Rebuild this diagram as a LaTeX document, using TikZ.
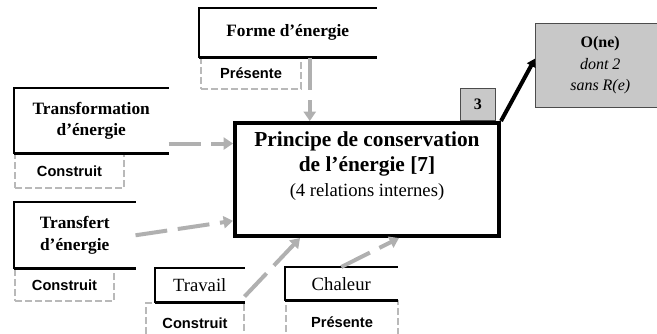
\documentclass[tikz,border=0pt]{standalone}
\usepackage{fontspec}
\setmainfont{Liberation Serif}
\setsansfont{Liberation Sans}
\usepackage{xcolor}
\usetikzlibrary{arrows.meta}

\definecolor{flowgray}{RGB}{176,176,176}
\definecolor{taggray}{RGB}{185,185,185}
\definecolor{boxgray}{RGB}{200,200,200}

\begin{document}
\begin{tikzpicture}[x=0.75pt, y=-0.75pt,
    concept/.style = {anchor=north west, inner sep=0pt, align=center, font=\fontsize{13}{16}\selectfont\bfseries},
    tag/.style = {anchor=north west, inner sep=0pt, draw=taggray, line width=1.5pt, dash pattern=on 5pt off 2.5pt, font=\sffamily\bfseries\fontsize{11}{13}\selectfont},
    flow/.style = {draw=flowgray, line width=3pt, dash pattern=on 24pt off 8pt, -{Triangle[length=7pt,width=9pt]}},
    greybox/.style = {anchor=north west, draw=black!70, fill=boxgray, inner sep=0pt, align=center}]
        \useasboundingbox (0,0) rectangle (657,333);
        \clip (0,0) rectangle (657,333);

        % tags under the concepts
        \node[tag, minimum width=75pt, minimum height=23.25pt] (presA) at (200,57) {Présente};
        \node[tag, minimum width=81.75pt, minimum height=25.5pt] (consA) at (14,153) {Construit};
        \node[tag, minimum width=74.25pt, minimum height=24pt] (consB) at (14,268) {Construit};
        \node[tag, minimum width=73.5pt, minimum height=30pt] (consC) at (145,302) {Construit};
        \node[tag, minimum width=84pt, minimum height=31.5pt] (presB) at (285,300) {Présente};

        % concepts
        \node[concept, minimum width=132.75pt, minimum height=36.75pt] (forme) at (199,8) {Forme d'énergie};
        \node[concept, minimum width=115.5pt, minimum height=48.75pt] (trfo) at (14,88) {Transformation\\d'énergie};
        \node[concept, minimum width=90.75pt, minimum height=49.5pt] (trfe) at (14,202) {Transfert\\d'énergie};
        \node[concept, font=\fontsize{14}{16}\selectfont, minimum width=66.75pt, minimum height=25.5pt] (travail) at (155,268) {Travail};
        \node[concept, font=\fontsize{14}{16}\selectfont, minimum width=84pt, minimum height=24.75pt] (chaleur) at (285,267) {Chaleur};

        \draw[line width=1pt] (forme.north east) -- (forme.north west) -- (forme.south west);
        \draw[line width=1.8pt] (forme.south west) -- (forme.south east);
        \draw[line width=1pt] (trfo.north east) -- (trfo.north west) -- (trfo.south west);
        \draw[line width=1.8pt] (trfo.south west) -- (trfo.south east);
        \draw[line width=1pt] (trfe.north east) -- (trfe.north west) -- (trfe.south west);
        \draw[line width=1.8pt] (trfe.south west) -- (trfe.south east);
        \draw[line width=1pt] (travail.north east) -- (travail.north west) -- (travail.south west);
        \draw[line width=1.8pt] (travail.south west) -- (travail.south east);
        \draw[line width=1pt] (chaleur.north east) -- (chaleur.north west) -- (chaleur.south west);
        \draw[line width=1.8pt] (chaleur.south west) -- (chaleur.south east);

        % principle
        \node[anchor=north west, draw, line width=3pt, fill=white, inner sep=0pt, align=center, minimum width=198pt, minimum height=84.75pt, font=\fontsize{16}{19}\selectfont] (main) at (233,121)
            {\textbf{Principe de conservation}\\
             \textbf{de l'énergie [7]}\\
             {\fontsize{14}{17}\selectfont (4 relations internes)}\\[4pt]};
        \node[greybox, minimum width=26.25pt, minimum height=24pt, font=\bfseries\fontsize{12}{14}\selectfont] (three) at (460,88) {3};
        \node[greybox, minimum width=97.5pt, minimum height=63pt, font=\fontsize{12}{16}\selectfont] (one) at (535,23)
            {\textbf{O(ne)}\\ \textit{dont 2}\\ \textit{sans R(e)}};

        % relations
        \coordinate (trfoout) at ([yshift=7.5pt]trfo.south east);
        \draw[flow] ([xshift=16.5pt]forme.south) -- ([xshift=16.5pt]forme.south |- main.north);
        \draw[flow] (trfoout) -- (trfoout -| main.west);
        \draw[flow] (trfe.east) -- ([yshift=-31pt]main.west);
        \draw[flow] ([yshift=4.5pt]travail.south east) -- ([xshift=-50.25pt]main.south);
        \draw[flow] (chaleur.north) -- ([xshift=24pt]main.south);
        \draw[line width=3pt, -{Triangle[length=6pt,width=7pt]}] (main.north east) -- ([yshift=5pt]one.west);
      \end{tikzpicture}
\end{document}
